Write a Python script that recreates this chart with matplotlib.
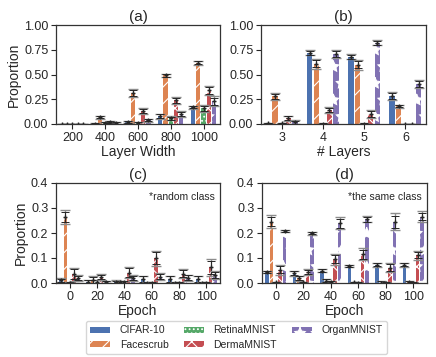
import matplotlib
matplotlib.use("Agg")
import matplotlib.pyplot as plt
import numpy as np
import seaborn as sns

sns.set_style("ticks")
plt.rcParams['font.family'] = ['Liberation Sans', 'DejaVu Sans']
plt.rcParams['hatch.linewidth'] = 0.8

datasets = ['CIFAR-10', 'Facescrub', 'RetinaMNIST', 'DermaMNIST', 'OrganMNIST']
colors = ['#4C72B0', '#DD8452', '#55A868', '#C44E52', '#8172B3']
hatches = ['', '//', '....', 'xx', '*']

# (a) layer width
widths = ['200', '400', '600', '800', '1000']
cifar_a = [0.002, 0.005, 0.02, 0.08, 0.17]
face_a = [0.0, 0.07, 0.31, 0.49, 0.62]
retina_a = [0.0, 0.01, 0.01, 0.06, 0.16]
derma_a = [0.0, 0.02, 0.13, 0.24, 0.34]
organ_a = [0.0, 0.01, 0.04, 0.10, 0.23]
err_a = [[0.002, 0.004, 0.01, 0.025, 0.015],
         [0.0, 0.015, 0.04, 0.02, 0.02],
         [0.0, 0.01, 0.01, 0.02, 0.035],
         [0.0, 0.015, 0.03, 0.035, 0.045],
         [0.0, 0.01, 0.015, 0.03, 0.05]]

# (b) number of layers
layers = ['3', '4', '5', '6']
cifar_b = [0.01, 0.72, 0.68, 0.28]
face_b = [0.28, 0.61, 0.60, 0.18]
retina_b = [0.01, 0.005, 0.005, 0.0]
derma_b = [0.06, 0.14, 0.10, 0.0]
organ_b = [0.02, 0.71, 0.82, 0.40]
err_b = [[0.005, 0.025, 0.025, 0.04],
         [0.035, 0.05, 0.05, 0.015],
         [0.005, 0.005, 0.005, 0.0],
         [0.025, 0.03, 0.04, 0.0],
         [0.02, 0.04, 0.025, 0.04]]

# (c) epoch, random class
epochs = ['0', '20', '40', '60', '80', '100']
cifar_c = [0.011, 0.004, 0.004, 0.015, 0.015, 0.015]
face_c = [0.263, 0.013, 0.003, 0.002, 0.002, 0.002]
retina_c = [0.002, 0.005, 0.005, 0.002, 0.002, 0.002]
derma_c = [0.035, 0.024, 0.042, 0.10, 0.038, 0.063]
organ_c = [0.02, 0.005, 0.02, 0.026, 0.022, 0.031]
err_c = [[0.008, 0.01, 0.008, 0.015, 0.015, 0.015],
         [0.028, 0.015, 0.005, 0.003, 0.003, 0.003],
         [0.003, 0.008, 0.005, 0.003, 0.003, 0.003],
         [0.027, 0.012, 0.022, 0.03, 0.018, 0.034],
         [0.012, 0.005, 0.012, 0.015, 0.012, 0.016]]

# (d) epoch, same class
cifar_d = [0.044, 0.04, 0.05, 0.068, 0.073, 0.073]
face_d = [0.246, 0.02, 0.01, 0.003, 0.002, 0.003]
retina_d = [0.003, 0.003, 0.005, 0.002, 0.002, 0.002]
derma_d = [0.054, 0.045, 0.095, 0.115, 0.062, 0.112]
organ_d = [0.208, 0.20, 0.24, 0.255, 0.246, 0.266]
err_d = [[0.004, 0.01, 0.006, 0.005, 0.008, 0.009],
         [0.026, 0.01, 0.006, 0.003, 0.006, 0.005],
         [0.003, 0.003, 0.005, 0.003, 0.003, 0.003],
         [0.02, 0.012, 0.022, 0.024, 0.017, 0.018],
         [0.005, 0.006, 0.024, 0.012, 0.032, 0.021]]

W, H = 436, 357
fig = plt.figure(figsize=(W / 100, H / 100), dpi=100)


def px_axes(left, top, w, h):
    return fig.add_axes([left / W, (H - top - h) / H, w / W, h / H])


def draw(ax, cats, series, errs, ylim, yticks, fmt, xlabel, title, ylabel=None, note=None):
    x = np.arange(len(cats))
    step = 0.16
    bars = []
    for i, (vals, err) in enumerate(zip(series, errs)):
        pos = x + (i - 2) * step
        b = ax.bar(pos, vals, width=0.13, color=colors[i], hatch=hatches[i],
                   edgecolor='white', linewidth=0, label=datasets[i])
        bars.append(b)
        ax.errorbar(pos, vals, yerr=err, fmt='none', ecolor='0.55',
                    capsize=3.5, elinewidth=1, capthick=1)
        ax.errorbar(pos, vals, yerr=np.array(err) * 0.75, fmt='+', color='0.15',
                    ms=3, ecolor='0.15', capsize=3, elinewidth=0.7, capthick=0.7)
    ax.set_xlim(-0.5, len(cats) - 0.5)
    ax.set_xticks(x)
    ax.set_xticklabels(cats)
    ax.set_ylim(*ylim)
    ax.set_yticks(yticks)
    ax.set_yticklabels([fmt.format(v) for v in yticks])
    ax.tick_params(labelsize=9, length=3.5, width=0.8, pad=2)
    ax.set_xlabel(xlabel, fontsize=10, labelpad=1)
    ax.set_title(title, fontsize=11, pad=3)
    if ylabel:
        ax.set_ylabel(ylabel, fontsize=10, labelpad=2)
    if note:
        ax.text(0.97, 0.91, note, transform=ax.transAxes, ha='right', va='top', fontsize=7.5)
    for s in ax.spines.values():
        s.set_color('0.2')
        s.set_linewidth(0.9)
    return bars


ax_a = px_axes(56, 25, 164, 99)
ax_b = px_axes(261, 25, 165, 99)
ax_c = px_axes(56, 183, 164, 100)
ax_d = px_axes(262, 183, 165, 100)

bars = draw(ax_a, widths, [cifar_a, face_a, retina_a, derma_a, organ_a], err_a,
            (0, 1.0), [0, 0.25, 0.5, 0.75, 1.0], '{:.2f}', 'Layer Width', '(a)', 'Proportion')
draw(ax_b, layers, [cifar_b, face_b, retina_b, derma_b, organ_b], err_b,
     (0, 1.0), [0, 0.25, 0.5, 0.75, 1.0], '{:.2f}', '# Layers', '(b)')
draw(ax_c, epochs, [cifar_c, face_c, retina_c, derma_c, organ_c], err_c,
     (0, 0.4), [0, 0.1, 0.2, 0.3, 0.4], '{:.1f}', 'Epoch', '(c)', 'Proportion',
     note='*random class')
draw(ax_d, epochs, [cifar_d, face_d, retina_d, derma_d, organ_d], err_d,
     (0, 0.4), [0, 0.1, 0.2, 0.3, 0.4], '{:.1f}', 'Epoch', '(d)',
     note='*the same class')

fig.legend(bars, datasets, loc='upper center', bbox_to_anchor=(0.5425, 0.1),
           ncol=3, fontsize=7.5, frameon=True, handlelength=1.9, handleheight=0.5,
           columnspacing=1.5, borderpad=0.4, labelspacing=0.45, handletextpad=0.9,
           borderaxespad=0)

fig.savefig('out.png', dpi=100)
